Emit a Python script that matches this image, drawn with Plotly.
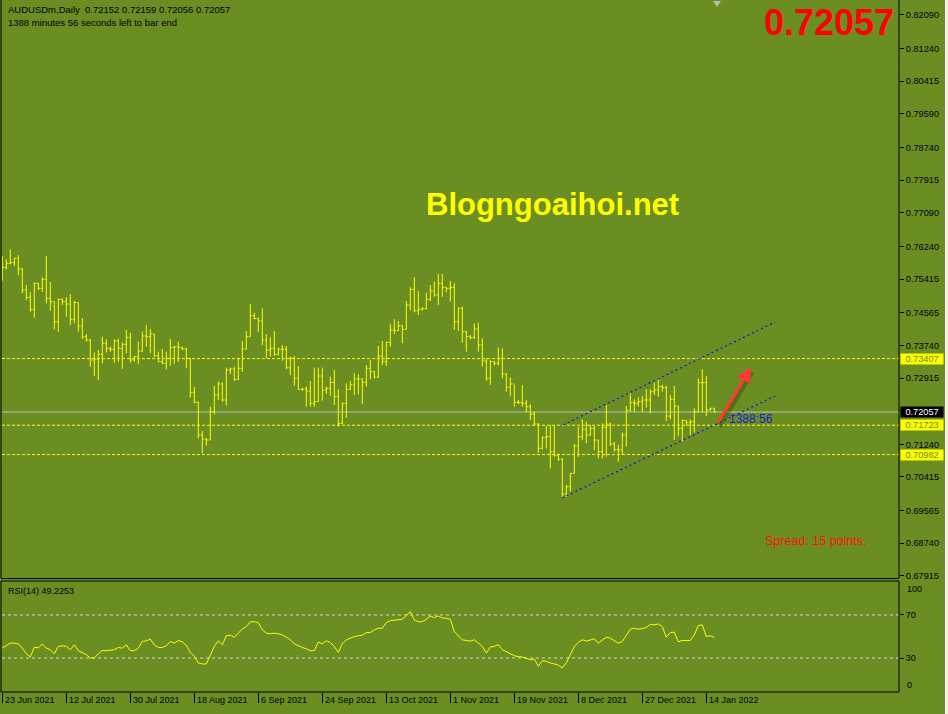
import plotly.graph_objects as go

# ---------------- data ----------------
bar_index = list(range(179))

opens = [
    0.75600, 0.75712, 0.75813, 0.75830, 0.75940, 0.75670, 0.75140, 0.74954, 0.74651, 0.75308,
    0.75182, 0.75409, 0.74929, 0.74845, 0.74339, 0.74904, 0.74845, 0.74786, 0.74398, 0.74820,
    0.74230, 0.73960, 0.73876, 0.73371, 0.73396, 0.73514, 0.73792, 0.73666, 0.73640, 0.73851,
    0.73666, 0.73767, 0.73943, 0.73371, 0.73455, 0.73598, 0.73977, 0.73960, 0.74028, 0.73480,
    0.73329, 0.73287, 0.73413, 0.73691, 0.73708, 0.73683, 0.73649, 0.73414, 0.72554, 0.72302,
    0.71476, 0.71375, 0.71350, 0.72066, 0.72487, 0.72765, 0.72361, 0.73119, 0.73144, 0.72883,
    0.73161, 0.73649, 0.73961, 0.74492, 0.74424, 0.74357, 0.73877, 0.73624, 0.73666, 0.73515,
    0.73641, 0.73641, 0.73178, 0.73414, 0.72908, 0.72630, 0.72639, 0.72588, 0.72276, 0.72318,
    0.72967, 0.72613, 0.72655, 0.72807, 0.72445, 0.71771, 0.72276, 0.72630, 0.72740, 0.72891,
    0.72891, 0.72807, 0.73161, 0.73076, 0.72933, 0.73472, 0.73329, 0.73818, 0.74129, 0.74112,
    0.74239, 0.74146, 0.74761, 0.75157, 0.74618, 0.74651, 0.74677, 0.74904, 0.75115, 0.75014,
    0.75308, 0.75207, 0.75182, 0.75207, 0.74340, 0.74677, 0.74087, 0.73961, 0.73935, 0.74154,
    0.73750, 0.73346, 0.72908, 0.73329, 0.73287, 0.73413, 0.73017, 0.72681, 0.72765, 0.72302,
    0.72293, 0.72276, 0.72191, 0.72006, 0.71753, 0.71139, 0.71417, 0.71433, 0.71054, 0.70970,
    0.70861, 0.69985, 0.70170, 0.70507, 0.71197, 0.71433, 0.71619, 0.71476, 0.71644, 0.71349,
    0.71054, 0.71669, 0.71753, 0.71248, 0.71113, 0.71096, 0.71476, 0.72090, 0.72293, 0.72276,
    0.72318, 0.72360, 0.72360, 0.72570, 0.72613, 0.72697, 0.72671, 0.71956, 0.72377, 0.72208,
    0.71644, 0.71838, 0.71787, 0.71812, 0.72065, 0.72798, 0.72798, 0.72107, 0.72152,
]

highs = [
    0.75999, 0.75914, 0.76167, 0.75940, 0.76024, 0.75687, 0.75266, 0.75097, 0.75333, 0.75320,
    0.75460, 0.75999, 0.75342, 0.74845, 0.74929, 0.74929, 0.74954, 0.75039, 0.74862, 0.74820,
    0.74432, 0.74028, 0.73901, 0.73564, 0.73623, 0.73960, 0.73893, 0.73708, 0.73901, 0.73910,
    0.73817, 0.74129, 0.74061, 0.73472, 0.73834, 0.74087, 0.74255, 0.74154, 0.74028, 0.73581,
    0.73649, 0.73581, 0.73901, 0.73725, 0.73835, 0.73708, 0.73683, 0.73414, 0.72698, 0.72318,
    0.71577, 0.71392, 0.72192, 0.72715, 0.72824, 0.72799, 0.73178, 0.73178, 0.73203, 0.73430,
    0.73852, 0.74104, 0.74787, 0.74567, 0.74441, 0.74677, 0.74020, 0.73944, 0.74104, 0.73683,
    0.73750, 0.73725, 0.73456, 0.73473, 0.73220, 0.72672, 0.72698, 0.72841, 0.73178, 0.73178,
    0.73178, 0.72698, 0.72950, 0.73119, 0.72630, 0.72293, 0.72782, 0.72841, 0.73034, 0.73009,
    0.72908, 0.73245, 0.73371, 0.73093, 0.73725, 0.73851, 0.73834, 0.74281, 0.74399, 0.74357,
    0.74256, 0.74862, 0.75207, 0.75460, 0.75115, 0.74702, 0.75073, 0.75266, 0.75351, 0.75544,
    0.75544, 0.75207, 0.75367, 0.75308, 0.74694, 0.74719, 0.74104, 0.74003, 0.74298, 0.74315,
    0.73919, 0.73413, 0.73371, 0.73346, 0.73691, 0.73666, 0.73034, 0.72933, 0.72739, 0.72360,
    0.72739, 0.72360, 0.72259, 0.72065, 0.71770, 0.71433, 0.71703, 0.71728, 0.71728, 0.71012,
    0.70886, 0.70212, 0.70507, 0.71248, 0.71686, 0.71871, 0.71812, 0.71728, 0.71703, 0.71349,
    0.71770, 0.72234, 0.71787, 0.71307, 0.71223, 0.71534, 0.72208, 0.72528, 0.72377, 0.72427,
    0.72461, 0.72629, 0.72629, 0.72798, 0.72924, 0.72739, 0.72714, 0.72486, 0.72714, 0.72208,
    0.71871, 0.71854, 0.71871, 0.72149, 0.72907, 0.73135, 0.72966, 0.72160, 0.72159,
]

lows = [
    0.75375, 0.75662, 0.75797, 0.75754, 0.75519, 0.75055, 0.74887, 0.74592, 0.74440, 0.75140,
    0.75097, 0.74803, 0.74617, 0.74146, 0.74087, 0.74761, 0.74466, 0.74255, 0.74297, 0.74087,
    0.73901, 0.73834, 0.73202, 0.72966, 0.72865, 0.73287, 0.73556, 0.73581, 0.73303, 0.73329,
    0.73143, 0.73539, 0.73303, 0.73329, 0.73270, 0.73581, 0.73708, 0.73539, 0.73438, 0.73329,
    0.73270, 0.73135, 0.73219, 0.73270, 0.73329, 0.73624, 0.73161, 0.72420, 0.72276, 0.71392,
    0.71013, 0.71207, 0.71350, 0.71999, 0.72361, 0.72318, 0.72217, 0.73018, 0.72841, 0.72866,
    0.73077, 0.73641, 0.73961, 0.74399, 0.74087, 0.73750, 0.73414, 0.73456, 0.73473, 0.73489,
    0.73355, 0.73136, 0.72992, 0.72723, 0.72613, 0.72588, 0.72192, 0.72192, 0.72192, 0.72318,
    0.72344, 0.72512, 0.72462, 0.72234, 0.71687, 0.71754, 0.71914, 0.72613, 0.72487, 0.72504,
    0.72251, 0.72697, 0.72883, 0.72908, 0.72933, 0.73245, 0.73220, 0.73708, 0.74028, 0.74104,
    0.73792, 0.74146, 0.74635, 0.74576, 0.74508, 0.74618, 0.74651, 0.74862, 0.74971, 0.74761,
    0.74971, 0.75081, 0.74845, 0.74129, 0.74104, 0.73809, 0.73582, 0.73893, 0.73902, 0.73582,
    0.73203, 0.72849, 0.72740, 0.73228, 0.73228, 0.72908, 0.72571, 0.72461, 0.72192, 0.72259,
    0.72192, 0.72049, 0.71854, 0.71728, 0.71029, 0.71113, 0.71139, 0.70633, 0.70928, 0.70827,
    0.69875, 0.69917, 0.70044, 0.70507, 0.70928, 0.71349, 0.71265, 0.71460, 0.71096, 0.70886,
    0.70886, 0.70928, 0.71198, 0.71054, 0.70802, 0.70970, 0.71181, 0.72080, 0.72065, 0.72192,
    0.72065, 0.72166, 0.72023, 0.72486, 0.72444, 0.72570, 0.71829, 0.71871, 0.71349, 0.71450,
    0.71307, 0.71703, 0.71476, 0.71534, 0.72050, 0.72040, 0.71956, 0.72090, 0.72056,
]

closes = [
    0.75712, 0.75813, 0.75830, 0.75940, 0.75670, 0.75140, 0.74954, 0.74651, 0.75308, 0.75182,
    0.75409, 0.74929, 0.74845, 0.74339, 0.74904, 0.74845, 0.74786, 0.74398, 0.74820, 0.74230,
    0.73960, 0.73876, 0.73371, 0.73396, 0.73514, 0.73792, 0.73666, 0.73640, 0.73851, 0.73666,
    0.73767, 0.73943, 0.73371, 0.73455, 0.73598, 0.73977, 0.73960, 0.74028, 0.73480, 0.73329,
    0.73287, 0.73413, 0.73691, 0.73708, 0.73683, 0.73649, 0.73414, 0.72554, 0.72302, 0.71476,
    0.71375, 0.71350, 0.72066, 0.72487, 0.72765, 0.72361, 0.73119, 0.73144, 0.72883, 0.73161,
    0.73649, 0.73961, 0.74492, 0.74424, 0.74357, 0.73877, 0.73624, 0.73666, 0.73515, 0.73641,
    0.73641, 0.73178, 0.73414, 0.72908, 0.72630, 0.72639, 0.72588, 0.72276, 0.72318, 0.72967,
    0.72613, 0.72655, 0.72807, 0.72445, 0.71771, 0.72276, 0.72630, 0.72740, 0.72891, 0.72891,
    0.72807, 0.73161, 0.73076, 0.72933, 0.73472, 0.73329, 0.73818, 0.74129, 0.74112, 0.74239,
    0.74146, 0.74761, 0.75157, 0.74618, 0.74651, 0.74677, 0.74904, 0.75115, 0.75014, 0.75308,
    0.75207, 0.75182, 0.75207, 0.74340, 0.74677, 0.74087, 0.73961, 0.73935, 0.74154, 0.73750,
    0.73346, 0.72908, 0.73329, 0.73287, 0.73413, 0.73017, 0.72681, 0.72765, 0.72302, 0.72293,
    0.72276, 0.72191, 0.72006, 0.71753, 0.71139, 0.71417, 0.71433, 0.71054, 0.70970, 0.70861,
    0.69985, 0.70170, 0.70507, 0.71197, 0.71433, 0.71619, 0.71476, 0.71644, 0.71349, 0.71054,
    0.71669, 0.71753, 0.71248, 0.71113, 0.71096, 0.71476, 0.72090, 0.72293, 0.72276, 0.72318,
    0.72360, 0.72360, 0.72570, 0.72613, 0.72697, 0.72671, 0.71956, 0.72377, 0.72208, 0.71644,
    0.71838, 0.71787, 0.71812, 0.72065, 0.72798, 0.72798, 0.72107, 0.72152, 0.72057,
]

rsi_values = [
    39.2, 41.4, 43.8, 43.8, 43.2, 39.2, 34.0, 31.0, 40.0, 39.5,
    43.0, 39.2, 37.7, 34.0, 40.8, 41.4, 40.8, 37.7, 42.3, 36.8,
    34.6, 33.1, 30.0, 30.0, 34.0, 37.0, 36.8, 37.0, 37.7, 39.8,
    39.2, 42.3, 36.8, 36.8, 39.2, 45.4, 46.0, 47.5, 42.3, 39.8,
    39.8, 41.4, 45.4, 43.8, 46.3, 45.0, 41.7, 35.2, 31.5, 25.4,
    24.5, 24.5, 32.2, 40.8, 46.0, 42.3, 50.6, 51.2, 49.4, 53.1,
    56.8, 59.2, 63.5, 63.8, 62.9, 56.2, 53.1, 52.5, 53.1, 52.5,
    51.5, 49.4, 46.9, 43.2, 41.4, 39.8, 38.6, 36.8, 36.8, 44.8,
    43.2, 46.0, 44.5, 40.8, 35.2, 43.2, 46.9, 48.5, 50.0, 50.6,
    51.2, 53.7, 53.7, 56.2, 57.7, 57.7, 62.9, 64.8, 65.4, 66.0,
    66.0, 69.4, 73.1, 65.4, 63.8, 63.8, 66.0, 69.1, 67.5, 69.1,
    67.2, 66.9, 66.0, 54.6, 50.6, 46.9, 46.3, 45.7, 46.9, 43.8,
    40.8, 34.6, 40.2, 40.8, 42.3, 37.7, 35.8, 34.6, 32.2, 31.2,
    30.9, 29.7, 28.5, 29.1, 22.3, 27.5, 26.9, 25.4, 24.5, 23.5,
    20.8, 25.4, 33.1, 40.8, 44.5, 46.9, 45.7, 46.9, 47.8, 43.8,
    46.9, 49.4, 48.5, 46.3, 43.8, 45.4, 50.6, 56.8, 57.7, 56.8,
    57.4, 58.3, 61.4, 60.8, 61.7, 59.2, 49.4, 53.7, 54.0, 45.1,
    46.3, 46.3, 46.3, 51.5, 60.2, 60.8, 50.0, 50.6, 49.2253,
]

date_tick_index = [0, 16, 32, 48, 64, 80, 96, 112, 128, 144, 160, 176]
date_tick_labels = ["23 Jun 2021", "12 Jul 2021", "30 Jul 2021", "18 Aug 2021", "6 Sep 2021",
                    "24 Sep 2021", "13 Oct 2021", "1 Nov 2021", "19 Nov 2021", "8 Dec 2021",
                    "27 Dec 2021", "14 Jan 2022"]

price_ticks = [0.82090, 0.81240, 0.80415, 0.79590, 0.78740, 0.77915, 0.77090, 0.76240, 0.75415,
               0.74565, 0.73740, 0.72915, 0.72090, 0.71240, 0.70415, 0.69565, 0.68740, 0.67915]
rsi_ticks = [70, 30]
rsi_levels = [70, 30]

level_lines = [0.73407, 0.71723, 0.70982]
bid_price = 0.72057

channel_upper_x = [140.2, 193.2]
channel_upper_y = [0.71728, 0.74331]
channel_lower_x = [139.9, 193.2]
channel_lower_y = [0.69884, 0.72461]

arrow_tail = (178.7, 0.71754)
arrow_head = (187.2, 0.73194)

# ---------------- figure ----------------
W, H = 948, 714          # reference canvas (layout designed in these pixels)
FIG_H = 717              # rendered height (compensates the capture's vertical squeeze)
BG = "#6B8E23"
FONT = "Liberation Sans, Arial, sans-serif"


def fx(px):
    return px / W


def fy(py):
    return 1 - py / H


fig = go.Figure()

fig.add_trace(go.Ohlc(
    x=bar_index, open=opens, high=highs, low=lows, close=closes,
    increasing=dict(line=dict(color="#FFFF00", width=1)),
    decreasing=dict(line=dict(color="#FFFF00", width=1)),
    tickwidth=0.4, hoverinfo="skip", xaxis="x", yaxis="y", showlegend=False,
))

for cx, cy in [(channel_upper_x, channel_upper_y), (channel_lower_x, channel_lower_y)]:
    fig.add_trace(go.Scatter(x=cx, y=cy, mode="lines",
                             line=dict(color="#1010E8", width=1.2, dash="2px,3px"),
                             hoverinfo="skip", showlegend=False, xaxis="x", yaxis="y"))

fig.add_trace(go.Scatter(x=bar_index, y=rsi_values, mode="lines",
                         line=dict(color="#FFFF00", width=1),
                         hoverinfo="skip", showlegend=False, xaxis="x2", yaxis="y2"))

shapes = []
for lv in level_lines:
    shapes.append(dict(type="line", xref="paper", yref="y", x0=fx(2), x1=fx(899), y0=lv, y1=lv,
                       line=dict(color="#FFFF00", width=1, dash="3px,2px"), layer="below"))
shapes.append(dict(type="line", xref="paper", yref="y", x0=fx(2), x1=fx(899), y0=bid_price, y1=bid_price,
                   line=dict(color="#C0C0C0", width=1), layer="below"))
for lv in rsi_levels:
    shapes.append(dict(type="line", xref="paper", yref="y2", x0=fx(2), x1=fx(899), y0=lv, y1=lv,
                       line=dict(color="#D8D8D8", width=1, dash="3px,3px"), layer="below"))


def hline(py, x0=1, x1=899):
    return dict(type="line", xref="paper", yref="paper", x0=fx(x0), x1=fx(x1), y0=fy(py), y1=fy(py),
                line=dict(color="black", width=1))


def vline(px, y0, y1):
    return dict(type="line", xref="paper", yref="paper", x0=fx(px), x1=fx(px), y0=fy(y0), y1=fy(y1),
                line=dict(color="black", width=1))


shapes += [vline(1, 0, 578), vline(899, 0, 578), hline(578.5),
           hline(581), vline(1, 581, 692), vline(899, 581, 692), hline(692)]
shapes.append(dict(type="rect", xref="paper", yref="paper", x0=fx(945), x1=1, y0=0, y1=1,
                   fillcolor="#F0F0F0", line=dict(width=0)))
shapes.append(dict(type="path", xref="paper", yref="paper",
                   path=f"M {fx(713)},{fy(1)} L {fx(721)},{fy(1)} L {fx(717)},{fy(7)} Z",
                   fillcolor="#B8B8B8", line=dict(width=0)))
shapes.append(dict(type="line", xref="x", yref="y",
                   x0=arrow_tail[0] + 0.6, y0=arrow_tail[1] - 0.0006,
                   x1=arrow_head[0] + 0.2, y1=arrow_head[1] - 0.0012,
                   line=dict(color="rgba(40,55,10,0.35)", width=5)))

annotations = []
annotations.append(dict(xref="paper", yref="paper", x=fx(6), y=fy(10), xanchor="left", yanchor="middle",
                        text="AUDUSDm,Daily\u00a0\u00a00.72152 0.72159 0.72056 0.72057", showarrow=False,
                        font=dict(family=FONT, size=9.5, color="black")))
annotations.append(dict(xref="paper", yref="paper", x=fx(6), y=fy(23), xanchor="left", yanchor="middle",
                        text="1388 minutes 56 seconds left to bar end", showarrow=False,
                        font=dict(family=FONT, size=9.5, color="black")))
annotations.append(dict(xref="paper", yref="paper", x=fx(6), y=fy(591), xanchor="left", yanchor="middle",
                        text="RSI(14) 49.2253", showarrow=False,
                        font=dict(family=FONT, size=9, color="black")))
annotations.append(dict(xref="paper", yref="paper", x=fx(896), y=fy(23), xanchor="right", yanchor="middle",
                        text="<b>0.72057</b>", showarrow=False,
                        font=dict(family=FONT, size=36, color="#FF0000")))
annotations.append(dict(xref="paper", yref="paper", x=fx(552), y=fy(204), xanchor="center", yanchor="middle",
                        text="<b>Blogngoaihoi.net</b>", showarrow=False,
                        font=dict(family=FONT, size=31, color="#FFFF00")))
annotations.append(dict(xref="paper", yref="paper", x=fx(763), y=fy(541), xanchor="left", yanchor="middle",
                        text="Spread: 15 points.", showarrow=False,
                        font=dict(family=FONT, size=12.5, color="#FF1010")))
annotations.append(dict(xref="paper", yref="paper", x=fx(727), y=fy(419), xanchor="left", yanchor="middle",
                        text="1388:56", showarrow=False,
                        font=dict(family=FONT, size=12, color="#1C1CD8")))
annotations.append(dict(x=arrow_head[0], y=arrow_head[1], ax=arrow_tail[0], ay=arrow_tail[1],
                        xref="x", yref="y", axref="x", ayref="y",
                        text="", showarrow=True, arrowhead=2, arrowsize=1, arrowwidth=3,
                        arrowcolor="#FF3B30"))
for val, bg, fg in [(0.73407, "#FFFF00", BG), (0.71723, "#FFFF00", BG),
                    (0.70982, "#FFFF00", BG), (bid_price, "#000000", "#FFFFFF")]:
    annotations.append(dict(xref="paper", yref="y", x=fx(900), y=val, xanchor="left", yanchor="middle",
                            text=f"{val:.5f}", showarrow=False, bgcolor=bg, borderpad=0, width=42,
                            font=dict(family=FONT, size=9.2, color=fg)))
annotations.append(dict(xref="paper", yref="paper", x=fx(905), y=fy(589), xanchor="left", yanchor="middle",
                        text="100", showarrow=False, font=dict(family=FONT, size=9, color="black")))
annotations.append(dict(xref="paper", yref="paper", x=fx(905), y=fy(685), xanchor="left", yanchor="middle",
                        text="0", showarrow=False, font=dict(family=FONT, size=9, color="black")))
for idx, lab in zip(date_tick_index, date_tick_labels):
    annotations.append(dict(xref="x2", yref="paper", x=idx, y=fy(700), xanchor="left", yanchor="middle",
                            xshift=1, text=lab, showarrow=False,
                            font=dict(family=FONT, size=9, color="black")))

xdom = [fx(2), fx(899)]
xrange = [-0.075, 224.175]

fig.update_layout(
    width=W, height=FIG_H,
    margin=dict(l=0, r=0, t=0, b=0, pad=0),
    paper_bgcolor=BG, plot_bgcolor=BG,
    showlegend=False,
    xaxis=dict(domain=xdom, range=xrange, anchor="y", showgrid=False, zeroline=False,
               showticklabels=False, ticks="", rangeslider=dict(visible=False), fixedrange=True),
    yaxis=dict(domain=[fy(578), fy(2)], range=[0.67862, 0.82418], anchor="x", side="right",
               tickvals=price_ticks, ticktext=[f"{v:.5f}" for v in price_ticks],
               ticks="outside", ticklen=4, tickcolor="black", tickwidth=1,
               tickfont=dict(family=FONT, size=9.2, color="black"),
               showgrid=False, zeroline=False, showline=False, fixedrange=True),
    xaxis2=dict(domain=xdom, range=xrange, anchor="y2", matches="x", showgrid=False, zeroline=False,
                tickvals=date_tick_index, showticklabels=False, ticks="outside", ticklen=10,
                tickcolor="black", tickwidth=1, fixedrange=True),
    yaxis2=dict(domain=[fy(692), fy(581)], range=[-1.6, 101.6], anchor="x2", side="right",
                tickvals=rsi_ticks, ticktext=[str(v) for v in rsi_ticks],
                ticks="outside", ticklen=4, tickcolor="black",
                tickfont=dict(family=FONT, size=9, color="black"),
                showgrid=False, zeroline=False, fixedrange=True),
    shapes=shapes,
    annotations=annotations,
)

page_css = ("var s='margin:0;padding:0;overflow:hidden;';"
            "document.documentElement.style.cssText=s;document.body.style.cssText=s;")
fig.write_html("out.html", config={"displayModeBar": False}, post_script=page_css)
